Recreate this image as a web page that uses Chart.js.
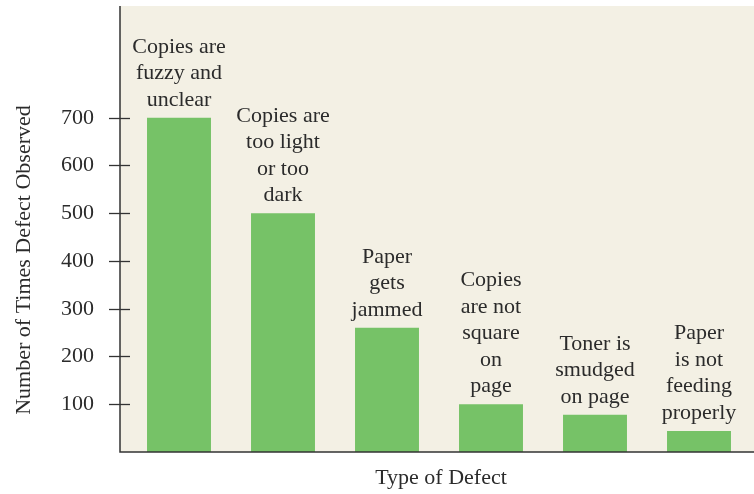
<!DOCTYPE html>
<html>
<head>
<meta charset="utf-8">
<style>
  html, body { margin: 0; padding: 0; background: #fff; }
  #wrap { width: 754px; height: 494px; }
</style>
<script src="https://cdn.jsdelivr.net/npm/chart.js@4/dist/chart.umd.min.js"></script>
</head>
<body>
<div id="wrap"><canvas id="chart"></canvas></div>
<script>
// --- data ---
const categories = ['fuzzy', 'light/dark', 'jammed', 'not square', 'smudged', 'not feeding'];
const barLabels = [
  ['Copies are', 'fuzzy and', 'unclear'],
  ['Copies are', 'too light', 'or too', 'dark'],
  ['Paper', 'gets', 'jammed'],
  ['Copies', 'are not', 'square', 'on', 'page'],
  ['Toner is', 'smudged', 'on page'],
  ['Paper', 'is not', 'feeding', 'properly']
];
const defectCounts = [700, 500, 260, 100, 78, 44];
const yTickValues = [100, 200, 300, 400, 500, 600, 700];

const C = {
  bar: '#76c267', cream: '#f3f0e4', axis: '#333333', text: '#2b2b2b',
  font: "'Liberation Serif', 'Times New Roman', serif"
};

// cream plot panel behind the bars
const panelBg = {
  id: 'panelBg',
  beforeDatasetsDraw(chart) {
    const { ctx, chartArea: a } = chart;
    ctx.save();
    ctx.fillStyle = C.cream;
    ctx.fillRect(a.left - 7, a.top, a.right - a.left + 10, a.bottom - a.top);
    ctx.restore();
  }
};

// axis lines, crossing tick marks, titles and bar captions
const decorations = {
  id: 'decorations',
  afterDatasetsDraw(chart) {
    const { ctx, chartArea: a, scales } = chart;
    const x0 = a.left - 7;
    ctx.save();
    ctx.strokeStyle = C.axis;
    ctx.lineWidth = 1.5;
    ctx.beginPath();
    ctx.moveTo(x0, a.top);
    ctx.lineTo(x0, a.bottom);
    ctx.lineTo(a.right + 3, a.bottom);
    ctx.stroke();

    ctx.lineWidth = 1.3;
    yTickValues.forEach(v => {
      const y = Math.round(scales.y.getPixelForValue(v)) + 0.5;
      ctx.beginPath();
      ctx.moveTo(x0 - 11, y);
      ctx.lineTo(x0 + 10, y);
      ctx.stroke();
    });

    ctx.fillStyle = C.text;
    ctx.font = '22px ' + C.font;
    ctx.textAlign = 'center';
    ctx.textBaseline = 'alphabetic';

    const meta = chart.getDatasetMeta(0);
    meta.data.forEach((bar, i) => {
      const lines = barLabels[i];
      lines.forEach((line, j) => {
        const base = bar.y - 12 - (lines.length - 1 - j) * 26.5;
        ctx.fillText(line, bar.x, base);
      });
    });

    ctx.textBaseline = 'middle';
    ctx.fillText('Type of Defect', 441, 478);

    ctx.translate(24, 260);
    ctx.rotate(-Math.PI / 2);
    ctx.fillText('Number of Times Defect Observed', 0, 0);
    ctx.restore();
  }
};

new Chart(document.getElementById('chart'), {
  type: 'bar',
  data: {
    labels: categories,
    datasets: [{
      data: defectCounts,
      backgroundColor: C.bar,
      borderWidth: 0,
      categoryPercentage: 1,
      barPercentage: 0.615
    }]
  },
  options: {
    responsive: true,
    maintainAspectRatio: false,
    animation: false,
    devicePixelRatio: 1,
    layout: { padding: { top: 6, right: 3, left: 0, bottom: 0 } },
    plugins: { legend: { display: false }, tooltip: { enabled: false } },
    scales: {
      x: {
        grid: { display: false, drawTicks: false },
        border: { display: false },
        ticks: { display: false },
        afterFit(s) { s.height = 42; s.paddingLeft = 0; s.paddingRight = 0; }
      },
      y: {
        min: 0,
        max: 934,
        grid: { display: false, drawTicks: false },
        border: { display: false },
        ticks: {
          stepSize: 100,
          autoSkip: false,
          padding: 33,
          color: C.text,
          font: { family: C.font, size: 22 },
          callback: v => yTickValues.includes(v) ? String(v) : ''
        },
        afterFit(s) { s.width = 127; s.paddingTop = 0; s.paddingBottom = 0; }
      }
    }
  },
  plugins: [panelBg, decorations]
});
</script>
</body>
</html>
